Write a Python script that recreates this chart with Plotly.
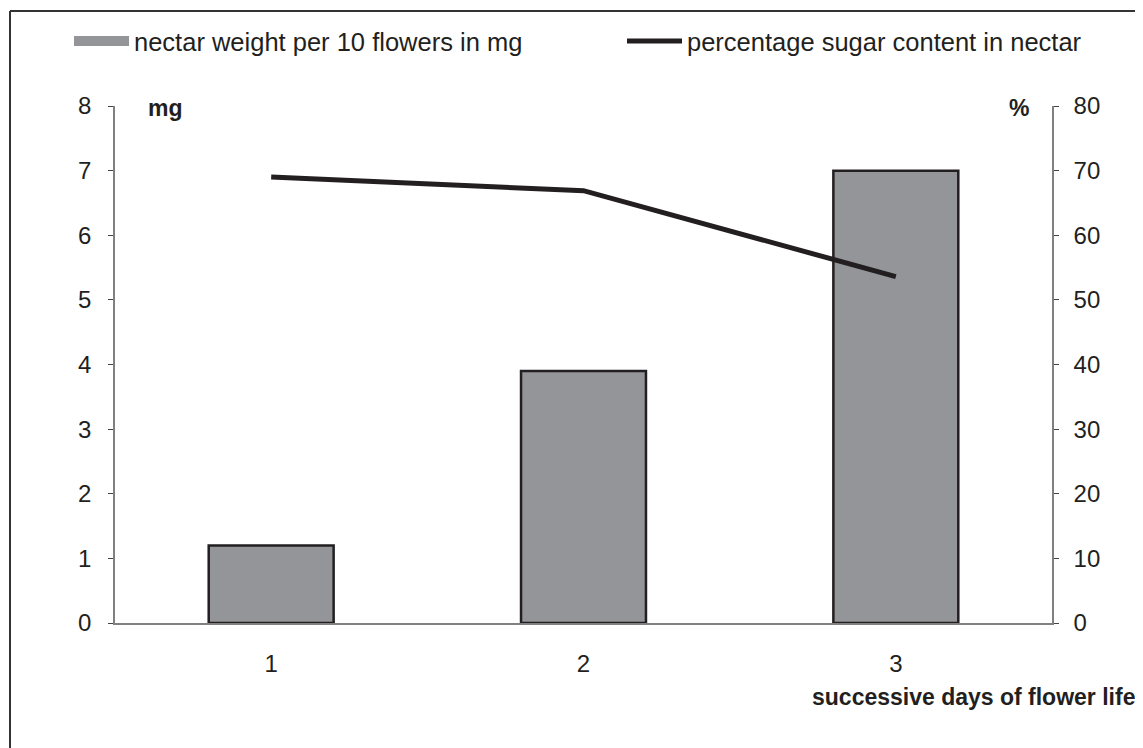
import plotly.graph_objects as go

days = ["1", "2", "3"]
day_pos = [1, 2, 3]
nectar_mg = [1.2, 3.9, 7.0]
sugar_pct = [69.0, 66.9, 53.6]
boundary_ticks = [0.5, 1.5, 2.5, 3.5]
left_ticks = [0, 1, 2, 3, 4, 5, 6, 7, 8]
right_ticks = [0, 10, 20, 30, 40, 50, 60, 70, 80]

# page has an 8px body margin; figure sized to fit inside the window
OFF = 8
W, H = 1143 - OFF, 748 - OFF
L, T = 115 - OFF, 106 - OFF
R = W - (1052 - OFF)
B = H - (623 - OFF)
PW, PH = W - L - R, H - T - B

def px_x(p):  # page pixel -> paper x
    return (p - OFF - L) / PW

def px_y(p):  # page pixel -> paper y
    return (H - B - (p - OFF)) / PH

FONT = "Liberation Sans, Arial, sans-serif"
INK = "#231f20"
AX = "#808080"
BAR = "#939598"

fig = go.Figure()
fig.add_trace(go.Bar(
    x=day_pos, y=nectar_mg, width=0.4, showlegend=False,
    name="nectar weight per 10 flowers in mg",
    marker=dict(color=BAR, line=dict(color=INK, width=2.5)),
    xaxis="x", yaxis="y",
))
# legend swatch for the bars (wide rectangle, like the original)
fig.add_trace(go.Scatter(
    x=[None], y=[None], mode="lines",
    name="nectar weight per 10 flowers in mg",
    line=dict(color=BAR, width=13),
    xaxis="x", yaxis="y", hoverinfo="skip", legend="legend",
))
fig.add_trace(go.Scatter(
    x=day_pos, y=sugar_pct, mode="lines",
    name="percentage sugar content in nectar",
    line=dict(color=INK, width=5),
    xaxis="x", yaxis="y2", legend="legend2",
))

common_tick = dict(tickcolor="#444", tickwidth=1, ticklen=5)
TS = 24
LEG = dict(orientation="h", xanchor="left", yanchor="top",
           font=dict(size=25.5, color=INK), bgcolor="rgba(0,0,0,0)",
           itemwidth=55)
fig.update_layout(
    width=W, height=H,
    margin=dict(l=L, r=R, t=T, b=B, autoexpand=False),
    paper_bgcolor="white", plot_bgcolor="white",
    font=dict(family=FONT, size=TS, color=INK),
    showlegend=True,
    legend=dict(x=px_x(69), y=px_y(18), **LEG),
    legend2=dict(x=px_x(622), y=px_y(18), **LEG),
    xaxis=dict(
        range=[0.5, 3.5], tickvals=day_pos, ticktext=days, ticks="",
        showline=True, linecolor=AX, linewidth=1.5, showgrid=False, zeroline=False,
        ticklabelstandoff=18, tickfont=dict(size=TS),
    ),
    xaxis2=dict(
        range=[0.5, 3.5], overlaying="x", anchor="y", tickvals=boundary_ticks,
        ticks="outside", showticklabels=False, showline=False, showgrid=False,
        zeroline=False, **common_tick,
    ),
    xaxis3=dict(
        range=[0.5, 3.5], overlaying="x", anchor="y", tickvals=boundary_ticks,
        ticks="inside", showticklabels=False, showline=False, showgrid=False,
        zeroline=False, **common_tick,
    ),
    yaxis=dict(
        range=[0, 8], tickvals=left_ticks, ticks="outside", showline=True,
        linecolor=AX, linewidth=1.5, showgrid=False, zeroline=False,
        ticklabelstandoff=12, tickfont=dict(size=TS), **common_tick,
    ),
    yaxis2=dict(
        range=[0, 80], tickvals=right_ticks, overlaying="y", side="right",
        anchor="x", ticks="outside", showline=True, linecolor=AX, linewidth=1.5,
        showgrid=False, zeroline=False, ticklabelstandoff=10,
        tickfont=dict(size=TS), **common_tick,
    ),
    yaxis3=dict(
        range=[0, 8], tickvals=left_ticks, overlaying="y", anchor="x", side="left",
        ticks="inside", showticklabels=False, showline=False, showgrid=False,
        zeroline=False, **common_tick,
    ),
    yaxis4=dict(
        range=[0, 80], tickvals=right_ticks, overlaying="y", anchor="x", side="right",
        ticks="inside", showticklabels=False, showline=False, showgrid=False,
        zeroline=False, **common_tick,
    ),
)

# frame of the chart area (left and top edges)
fig.add_shape(type="line", xref="paper", yref="paper",
              x0=px_x(10), x1=px_x(10), y0=px_y(770), y1=px_y(11),
              line=dict(color="#333", width=2))
fig.add_shape(type="line", xref="paper", yref="paper",
              x0=px_x(10), x1=px_x(1170), y0=px_y(11), y1=px_y(11),
              line=dict(color="#333", width=2))

fig.add_annotation(text="<b>mg</b>", xref="paper", yref="paper",
                   x=px_x(146), y=px_y(108), xanchor="left", yanchor="middle",
                   showarrow=False, font=dict(size=23, color=INK))
fig.add_annotation(text="<b>%</b>", xref="paper", yref="paper",
                   x=px_x(1031), y=px_y(108), xanchor="right", yanchor="middle",
                   showarrow=False, font=dict(size=23, color=INK))
fig.add_annotation(text="<b>successive days of flower life</b>", xref="paper", yref="paper",
                   x=px_x(1137), y=px_y(697), xanchor="right", yanchor="middle",
                   showarrow=False, font=dict(size=23, color=INK))

fig.write_html("out.html")
